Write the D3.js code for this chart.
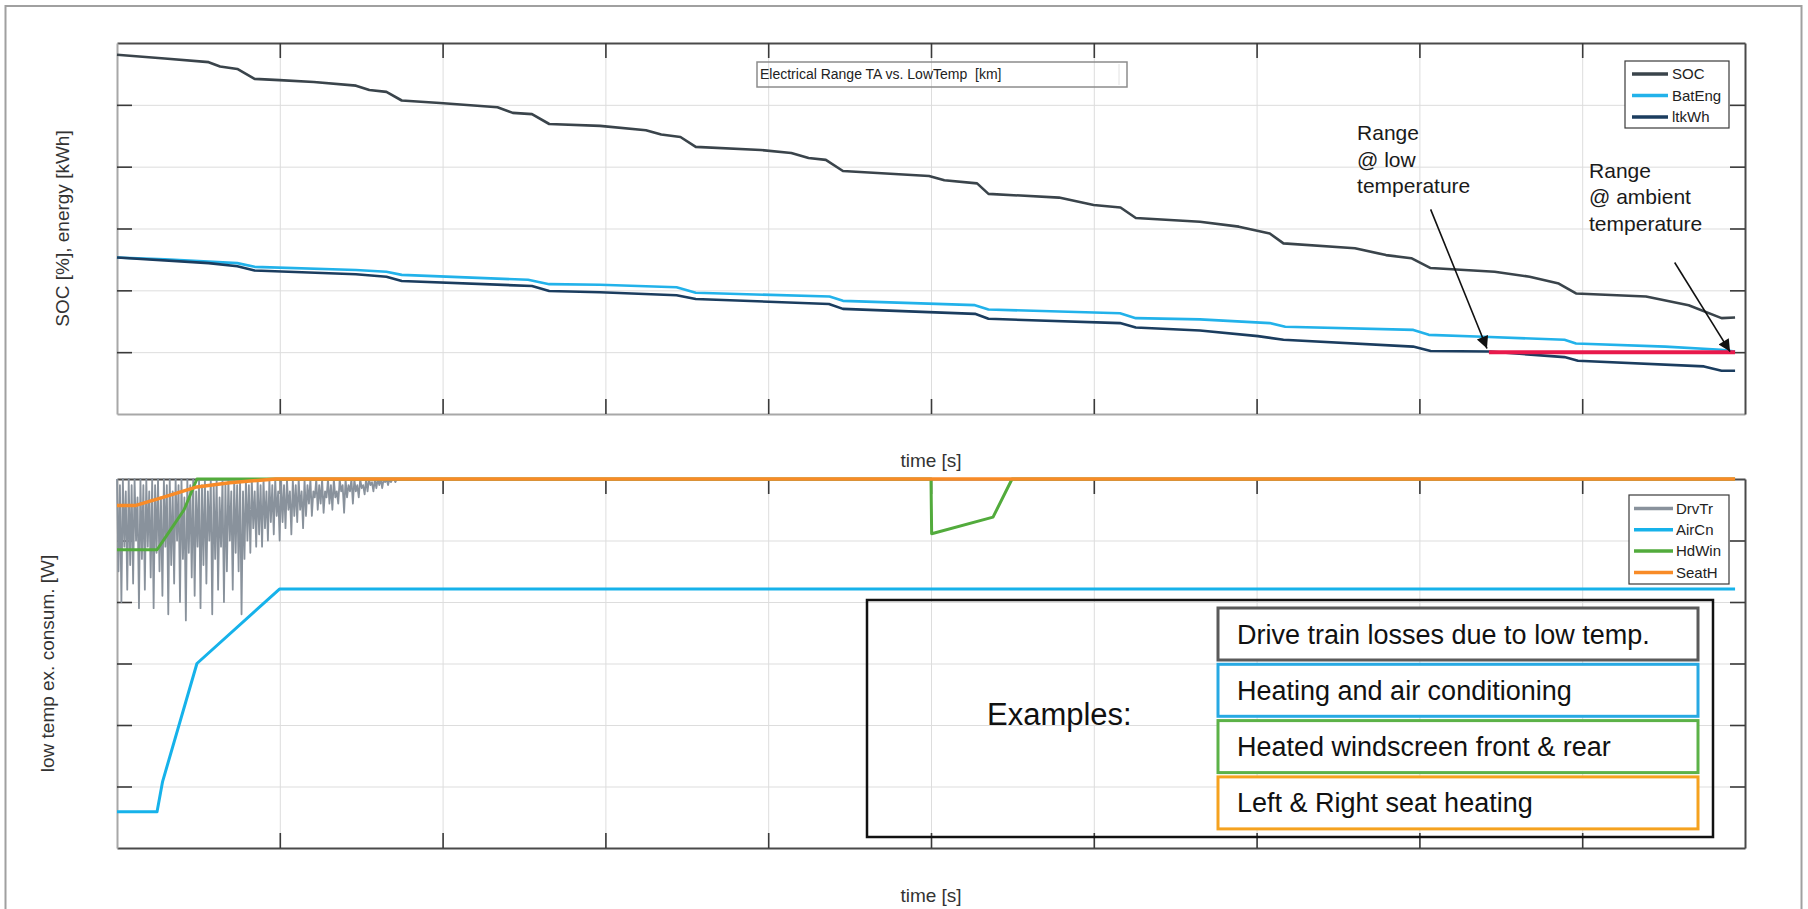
<!DOCTYPE html>
<html><head><meta charset="utf-8">
<script src="https://cdn.jsdelivr.net/npm/d3@7"></script>
<style>
html,body{margin:0;padding:0;background:#fff;}
svg{display:block;}
text{font-family:"Liberation Sans",Arial,Helvetica,sans-serif;}
</style>
</head><body>
<svg id="chart" width="1808" height="909"></svg>
<script>
// ---------------- DATA ----------------
const xTickValues = [1,2,3,4,5,6,7,8,9];
const yTickValues = [1,2,3,4,5];
const xDomain = [0,10];
const yDomain = [0,6];

const topSeriesNames = ["SOC","BatEng","ltkWh"];
const lowSeriesNames = ["DrvTr","AirCn","HdWin","SeatH"];

// upper panel: [time, value]
const socData = [[0,5.81],[0.293,5.75],[0.563,5.69],[0.633,5.62],[0.739,5.58],[0.845,5.42],[0.998,5.40],[1.209,5.37],[1.468,5.31],[1.550,5.24],[1.655,5.21],[1.749,5.07],[1.984,5.03],[2.337,4.96],[2.431,4.87],[2.549,4.85],[2.655,4.69],[2.967,4.66],[3.249,4.59],[3.343,4.52],[3.461,4.48],[3.555,4.32],[3.954,4.27],[4.142,4.22],[4.248,4.14],[4.354,4.11],[4.459,3.93],[4.988,3.85],[5.082,3.78],[5.283,3.73],[5.353,3.56],[5.786,3.50],[5.999,3.38],[6.164,3.34],[6.258,3.17],[6.652,3.11],[6.891,3.03],[7.081,2.92],[7.165,2.76],[7.604,2.68],[7.795,2.57],[7.950,2.52],[8.069,2.36],[8.462,2.30],[8.677,2.22],[8.856,2.11],[8.962,1.95],[9.392,1.90],[9.654,1.76],[9.856,1.55],[9.939,1.56]];
const batEngData = [[0,2.53],[0.293,2.50],[0.739,2.44],[0.845,2.38],[1.468,2.33],[1.655,2.30],[1.749,2.25],[2.525,2.17],[2.655,2.10],[2.967,2.09],[3.437,2.05],[3.555,1.96],[4.377,1.90],[4.459,1.83],[5.27,1.76],[5.353,1.69],[6.161,1.63],[6.258,1.55],[6.652,1.53],[7.081,1.47],[7.176,1.41],[7.963,1.36],[8.058,1.28],[8.391,1.25],[8.891,1.20],[8.962,1.14],[9.511,1.09],[9.853,1.04],[9.939,1.01]];
const ltkWhData = [[0,2.53],[0.563,2.44],[0.739,2.39],[0.845,2.32],[1.468,2.26],[1.655,2.22],[1.749,2.15],[2.549,2.07],[2.655,1.99],[2.967,1.97],[3.437,1.92],[3.555,1.86],[4.373,1.78],[4.459,1.70],[5.27,1.62],[5.353,1.54],[6.161,1.47],[6.258,1.40],[6.652,1.35],[7.008,1.26],[7.165,1.20],[7.961,1.09],[8.069,1.02],[8.427,1.01],[8.891,0.92],[8.974,0.86],[9.748,0.77],[9.856,0.70],[9.939,0.70]];
const rangeLine = [[8.427,1.0],[9.939,1.0]];
const arrowLow = [[8.069,3.31],[8.415,1.06]];
const arrowAmb = [[9.568,2.45],[9.908,1.01]];

// lower panel
const drvTrDt = 0.009;
const drvTrValues = [
  6,4.5,5.9,4.0,6,4.9,5.8,4.2,6,4.6,5.9,4.3,6,5.0,5.7,3.9,
  6,4.7,5.9,4.2,6,4.9,5.8,4.4,6,3.9,5.9,4.8,6,4.5,5.7,4.1,
  6,4.9,5.9,3.8,6,4.6,5.8,4.3,6,5.0,5.9,4.0,6,4.7,5.7,3.7,
  6,4.8,5.9,4.4,6,4.1,5.8,4.9,6,3.9,5.9,4.6,6,4.3,5.8,5.0,
  6,3.8,5.9,4.7,6,4.2,5.7,4.9,6,4.0,5.9,4.5,6,5.0,5.8,4.2,
  6,4.8,5.9,4.5,6,3.8,5.8,4.7,6,5.0,5.9,4.8,6,5.2,5.8,4.9,6,5.1,
  5.9,4.9,6,5.2,5.8,5.0,6,5.3,5.9,5.1,6,5.4,5.8,5.0,6,5.3,
  5.9,5.2,6,5.5,5.8,5.1,6,5.4,5.9,5.3,6,5.5,5.8,5.2,6,5.4,
  5.9,5.6,6,5.4,5.8,5.7,6,5.5,5.9,5.6,6,5.45,5.8,5.7,6,5.6,
  5.9,5.5,6,5.7,5.8,5.6,6,5.8,5.9,5.45,6,5.7,5.9,5.8,6,5.6,
  6,5.8,5.9,5.7,6,5.85,5.9,5.75,6,5.8,6,5.9,5.95,5.8,6,5.85,
  6,5.9,6,5.85,6,5.95,6,5.9,6,5.95,6,6,5.95,6,6,6,6,6];
const airCnData = [[0,0.59],[0.246,0.59],[0.280,1.08],[0.491,3.0],[0.998,4.21],[9.939,4.21]];
const hdWinData = [[0,4.85],[0.246,4.85],[0.338,5.21],[0.412,5.50],[0.491,6.0],[5.0,6.0],[5.004,5.11],[5.381,5.38],[5.498,6.0],[9.939,6.0]];
const seatHData = [[0,5.57],[0.116,5.57],[0.292,5.71],[0.491,5.87],[0.692,5.94],[0.974,6.0],[9.939,6.0]];

const titleText = "Electrical Range TA vs. LowTemp  [km]";
const exampleLabels = ["Drive train losses due to low temp.","Heating and air conditioning","Heated windscreen front & rear","Left & Right seat heating"];

// ---------------- STYLE ----------------
const topColors = {SOC:"#3a444b", BatEng:"#22b2ea", ltkWh:"#1b3d5f"};
const lowColors = {DrvTr:"#89929c", AirCn:"#16b2ea", HdWin:"#52ab3c", SeatH:"#f88b27"};
const exampleColors = ["#5a5a5a","#27a9e3","#5cb248","#f5a21f"];

const svg = d3.select("#chart");

// outer figure frame
svg.append("rect").attr("x",5.5).attr("y",6).attr("width",1796).attr("height",930)
  .attr("fill","none").attr("stroke","#a0a0a0").attr("stroke-width",2);

const x = d3.scaleLinear().domain(xDomain).range([117,1745]);
const yTop = d3.scaleLinear().domain(yDomain).range([414,43]);
const yLow = d3.scaleLinear().domain(yDomain).range([848,479]);

function drawPanel(y, borderColors) {
  const g = svg.append("g");
  const yb = y.range()[0], yt = y.range()[1];
  const xl = x.range()[0], xr = x.range()[1];
  const styleGrid = s => { s.select(".domain").remove(); s.selectAll(".tick line").attr("stroke","#dddddd").attr("stroke-width",1); };
  g.append("g").attr("transform",`translate(0,${yb})`)
    .call(d3.axisBottom(x).tickValues(xTickValues).tickSize(-(yb-yt)).tickFormat("")).call(styleGrid);
  g.append("g").attr("transform",`translate(${xl},0)`)
    .call(d3.axisLeft(y).tickValues(yTickValues).tickSize(-(xr-xl)).tickFormat("")).call(styleGrid);
  const tk = 15;
  const styleAx = c => s => { s.select(".domain").attr("stroke",c).attr("stroke-width",2); s.selectAll(".tick line").attr("stroke","#3a3a3a").attr("stroke-width",1.6); };
  g.append("g").attr("transform",`translate(0,${yt})`)
    .call(d3.axisTop(x).tickValues(xTickValues).tickSize(-tk).tickSizeOuter(0).tickFormat("")).call(styleAx(borderColors.top));
  g.append("g").attr("transform",`translate(0,${yb})`)
    .call(d3.axisBottom(x).tickValues(xTickValues).tickSize(-tk).tickSizeOuter(0).tickFormat("")).call(styleAx(borderColors.bottom));
  g.append("g").attr("transform",`translate(${xl},0)`)
    .call(d3.axisLeft(y).tickValues(yTickValues).tickSize(-tk).tickSizeOuter(0).tickFormat("")).call(styleAx(borderColors.left));
  g.append("g").attr("transform",`translate(${xr},0)`)
    .call(d3.axisRight(y).tickValues(yTickValues).tickSize(-tk).tickSizeOuter(0).tickFormat("")).call(styleAx(borderColors.right));
  return g;
}

drawPanel(yTop, {top:"#4a4a4a", right:"#4a4a4a", left:"#a8a8a8", bottom:"#a8a8a8"});
drawPanel(yLow, {top:"#4a4a4a", right:"#4a4a4a", left:"#a8a8a8", bottom:"#4a4a4a"});

// ----- title box -----
svg.append("rect").attr("x",757).attr("y",62).attr("width",370).attr("height",25)
  .attr("fill","none").attr("stroke","#8c8c8c").attr("stroke-width",1.5);
svg.append("line").attr("x1",1119).attr("x2",1119).attr("y1",64).attr("y2",85).attr("stroke","#e2e2e2");
svg.append("text").attr("x",760).attr("y",79).attr("font-size",14).attr("fill","#222")
  .style("white-space","pre").text(titleText);

// ----- upper lines -----
const lineTop = d3.line().x(d=>x(d[0])).y(d=>yTop(d[1]));
const lineLow = d3.line().x(d=>x(d[0])).y(d=>yLow(d[1]));
const topData = {SOC:socData, BatEng:batEngData, ltkWh:ltkWhData};
topSeriesNames.forEach(n=>{
  svg.append("path").datum(topData[n]).attr("d",lineTop).attr("fill","none")
    .attr("stroke",topColors[n]).attr("stroke-width",2.6).attr("stroke-linejoin","round");
});
svg.append("path").datum(rangeLine).attr("d",lineTop).attr("fill","none")
  .attr("stroke","#e8194b").attr("stroke-width",4);

// arrows
const defs = svg.append("defs");
defs.append("marker").attr("id","ah").attr("viewBox","0 0 10 10").attr("refX",10).attr("refY",5)
  .attr("markerWidth",16).attr("markerHeight",12).attr("markerUnits","userSpaceOnUse").attr("orient","auto")
  .append("path").attr("d","M0,0 L10,5 L0,10 Z").attr("fill","#111");
[arrowLow, arrowAmb].forEach(a=>{
  svg.append("path").datum(a).attr("d",lineTop).attr("fill","none").attr("stroke","#111")
    .attr("stroke-width",1.6).attr("marker-end","url(#ah)");
});

// annotations
function annot(tx, ty, lines) {
  const t = svg.append("text").attr("x",x(tx)).attr("y",yTop(ty)).attr("font-size",21).attr("fill","#1a1a1a");
  lines.forEach((l,i)=>t.append("tspan").attr("x",x(tx)).attr("dy",i===0?0:26.5).text(l));
}
annot(7.617, 4.43, ["Range","@ low","temperature"]);
annot(9.042, 3.817, ["Range","@ ambient","temperature"]);

// upper legend
const lgT = svg.append("g");
lgT.append("rect").attr("x",1625).attr("y",61).attr("width",104).attr("height",67)
  .attr("fill","#fff").attr("stroke","#3a3a3a").attr("stroke-width",1.2);
topSeriesNames.forEach((n,i)=>{
  const yy = 74 + i*21.5;
  lgT.append("line").attr("x1",1632).attr("x2",1668).attr("y1",yy).attr("y2",yy).attr("stroke",topColors[n]).attr("stroke-width",3.5);
  lgT.append("text").attr("x",1672).attr("y",yy).attr("dy","0.35em").attr("font-size",15).attr("fill","#222").text(n);
});

// ----- lower lines -----
const drvTrData = drvTrValues.map((v,i)=>[i*drvTrDt, v]);
const lowData = {DrvTr:drvTrData, AirCn:airCnData, HdWin:hdWinData, SeatH:seatHData};
const lowWidth = {DrvTr:1.8, AirCn:3, HdWin:3, SeatH:3.4};
lowSeriesNames.forEach(n=>{
  svg.append("path").datum(lowData[n]).attr("d",lineLow).attr("fill","none")
    .attr("stroke",lowColors[n]).attr("stroke-width",lowWidth[n]).attr("stroke-linejoin","round");
});

// lower legend
const lgL = svg.append("g");
lgL.append("rect").attr("x",1629).attr("y",495).attr("width",100).attr("height",89)
  .attr("fill","#fff").attr("stroke","#3a3a3a").attr("stroke-width",1.2);
lowSeriesNames.forEach((n,i)=>{
  const yy = 508.5 + i*21.3;
  lgL.append("line").attr("x1",1634).attr("x2",1673).attr("y1",yy).attr("y2",yy).attr("stroke",lowColors[n]).attr("stroke-width",3.5);
  lgL.append("text").attr("x",1676).attr("y",yy).attr("dy","0.35em").attr("font-size",15).attr("fill","#222").text(n);
});

// examples box
svg.append("rect").attr("x",867).attr("y",600).attr("width",846).attr("height",237)
  .attr("fill","none").attr("stroke","#111").attr("stroke-width",2.5);
svg.append("text").attr("x",987).attr("y",725).attr("font-size",31).attr("fill","#111").text("Examples:");
exampleLabels.forEach((l,i)=>{
  const top = 608 + i*56.3;
  svg.append("rect").attr("x",1218).attr("y",top).attr("width",480).attr("height",52)
    .attr("fill","#fff").attr("stroke",exampleColors[i]).attr("stroke-width",3);
  svg.append("text").attr("x",1237).attr("y",top+35.5).attr("font-size",27).attr("fill","#111").text(l);
});

// axis labels
svg.append("text").attr("transform","translate(69,228.5) rotate(-90)").attr("text-anchor","middle")
  .attr("font-size",19).attr("fill","#333").text("SOC [%], energy [kWh]");
svg.append("text").attr("transform","translate(54,663.5) rotate(-90)").attr("text-anchor","middle")
  .attr("font-size",19).attr("fill","#333").text("low temp ex. consum. [W]");
svg.append("text").attr("x",931).attr("y",467).attr("text-anchor","middle").attr("font-size",19).attr("fill","#333").text("time [s]");
svg.append("text").attr("x",931).attr("y",902).attr("text-anchor","middle").attr("font-size",19).attr("fill","#333").text("time [s]");
</script>
</body></html>
